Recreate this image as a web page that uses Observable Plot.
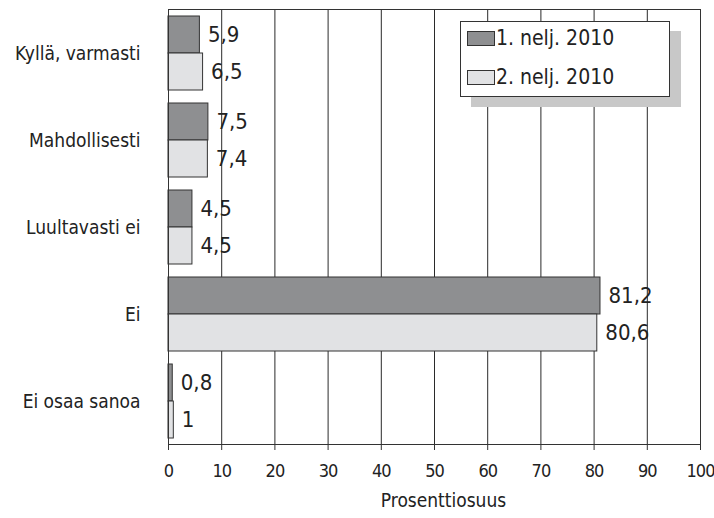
<!DOCTYPE html>
<html>
<head>
<meta charset="utf-8">
<script src="https://cdn.jsdelivr.net/npm/d3@7"></script>
<script src="https://cdn.jsdelivr.net/npm/@observablehq/plot@0.6"></script>
<style>
  html, body { margin: 0; padding: 0; background: #fff; }
  #wrap { position: relative; width: 714px; height: 518px; font-family: "Liberation Sans Narrow", "DejaVu Sans Condensed", "Roboto", sans-serif; }
  #legend { position: absolute; left: 460px; top: 21px; width: 210px; height: 76px; background: #fff; border: 1px solid #333; box-shadow: 11px 10px 0 #c8c8c8; box-sizing: border-box; }
  .item { position: absolute; left: 6px; display: flex; align-items: center; font-size: 21px; color: #222; white-space: nowrap; }
  .sw { width: 26px; height: 13px; border: 1px solid #333; margin-right: 1px; }
  g[aria-label="x-axis tick label"] text { letter-spacing: -1px; }
</style>
</head>
<body>
<div id="wrap"></div>
<script>
const categories = ["Kyllä, varmasti", "Mahdollisesti", "Luultavasti ei", "Ei", "Ei osaa sanoa"];
const q1 = [5.9, 7.5, 4.5, 81.2, 0.8];
const q2 = [6.5, 7.4, 4.5, 80.6, 1];
const seriesNames = ["1. nelj. 2010", "2. nelj. 2010"];
const seriesColors = ["#8e8f91", "#e1e2e4"];
const xTicks = [0, 10, 20, 30, 40, 50, 60, 70, 80, 90, 100];
const xTitle = "Prosenttiosuus";

const d1 = categories.map((c, i) => ({category: c, value: q1[i]}));
const d2 = categories.map((c, i) => ({category: c, value: q2[i]}));
const fmt = v => String(v).replace(".", ",");
const font = '"Liberation Sans Narrow", "DejaVu Sans Condensed", "Roboto", sans-serif';

const chart = Plot.plot({
  width: 714,
  height: 518,
  marginLeft: 168,
  marginRight: 14,
  marginTop: 9,
  marginBottom: 74,
  style: {fontFamily: font, fontSize: "20px", color: "#222", background: "#fff"},
  x: {domain: [0, 100]},
  y: {domain: categories, paddingInner: 0.15, paddingOuter: 0.075},
  marks: [
    Plot.ruleX(xTicks.slice(1, -1), {stroke: "#2a2a2a", strokeWidth: 1}),
    Plot.barX(d1, {x: "value", y: "category", fill: seriesColors[0], stroke: "#333", strokeWidth: 1, insetBottom: 37}),
    Plot.barX(d2, {x: "value", y: "category", fill: seriesColors[1], stroke: "#333", strokeWidth: 1, insetTop: 37}),
    Plot.text(d1, {x: "value", y: "category", text: d => fmt(d.value), dx: 8, dy: -18.5, textAnchor: "start", fontSize: 22, fill: "#222"}),
    Plot.text(d2, {x: "value", y: "category", text: d => fmt(d.value), dx: 8, dy: 18.5, textAnchor: "start", fontSize: 22, fill: "#222"}),
    Plot.frame({stroke: "#333", strokeWidth: 1}),
    Plot.axisX(xTicks, {ticks: xTicks, tickSize: 6, tickPadding: 14, fontSize: 18, label: null, stroke: "#333"}),
    Plot.text([xTitle], {frameAnchor: "bottom", dy: 62, dx: 9, fontSize: 19, fill: "#222"}),
    Plot.axisY({tickSize: 0, tickPadding: 28, fontSize: 19, label: null})
  ]
});

const wrap = document.getElementById("wrap");
wrap.appendChild(chart);

const legend = document.createElement("div");
legend.id = "legend";
seriesNames.forEach((name, i) => {
  const item = document.createElement("div");
  item.className = "item";
  item.style.top = (i === 0 ? 4 : 43) + "px";
  const sw = document.createElement("div");
  sw.className = "sw";
  sw.style.background = seriesColors[i];
  const t = document.createElement("span");
  t.textContent = name;
  item.appendChild(sw);
  item.appendChild(t);
  legend.appendChild(item);
});
wrap.appendChild(legend);
</script>
</body>
</html>
